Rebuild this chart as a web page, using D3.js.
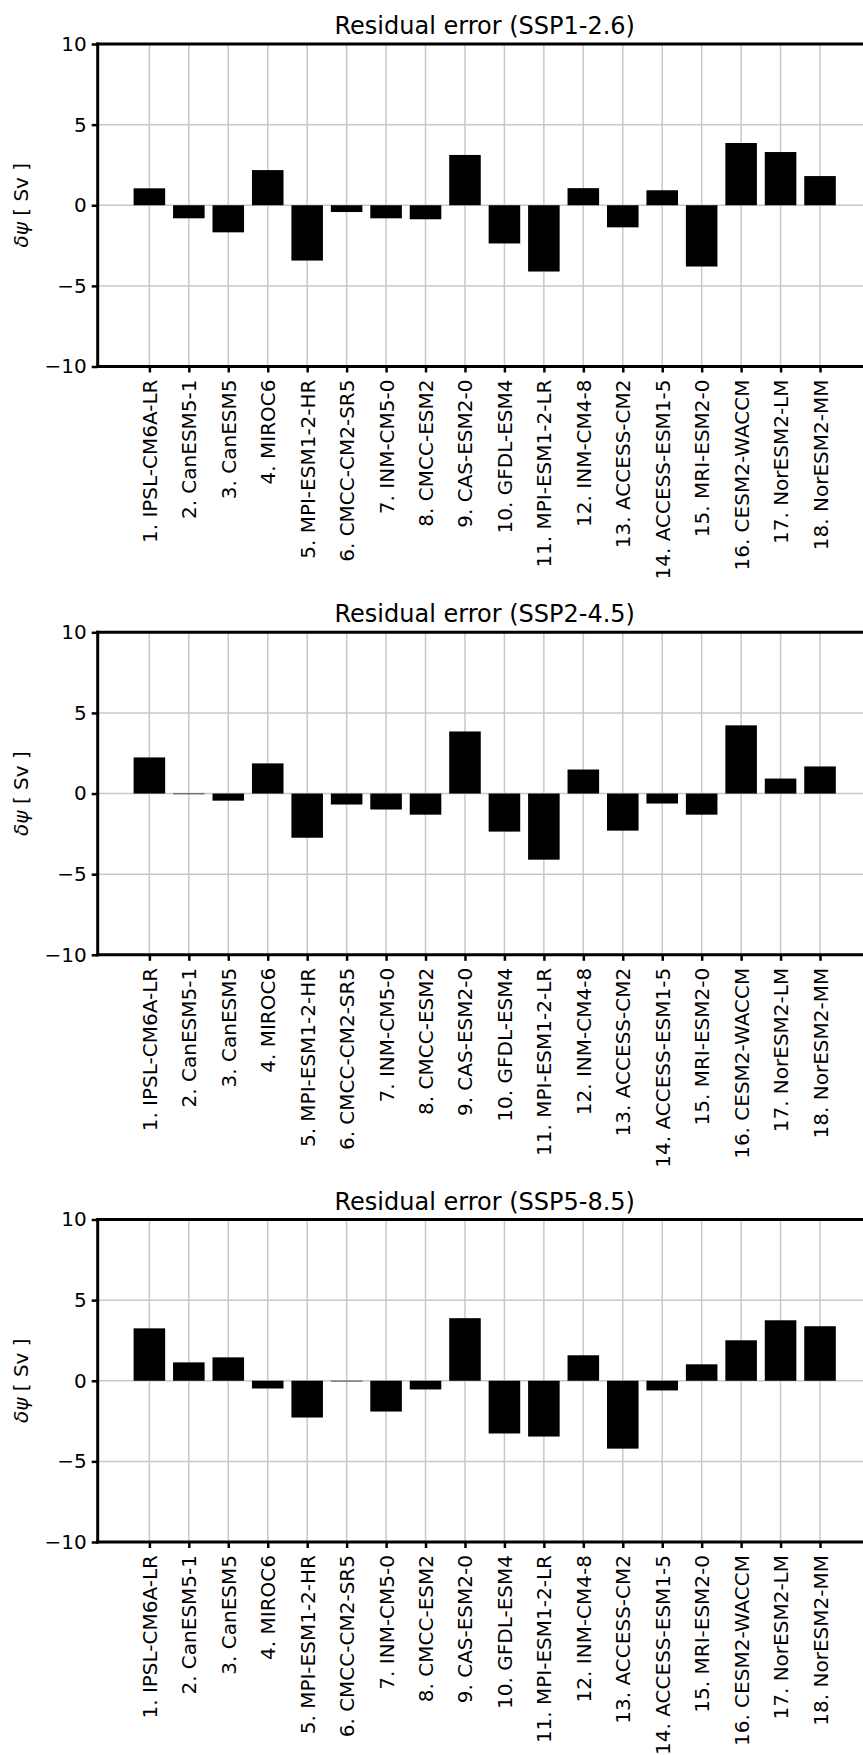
<!DOCTYPE html>
<html>
<head>
<meta charset="utf-8">
<script src="https://cdn.jsdelivr.net/npm/d3@7"></script>
<style>
  body { margin: 0; background: #fff; }
  svg { display: block; font-family: "DejaVu Sans", sans-serif; }
</style>
</head>
<body>
<div id="chart"></div>
<script>
// model names on the x axis
var models = ["1. IPSL-CM6A-LR", "2. CanESM5-1", "3. CanESM5", "4. MIROC6",
  "5. MPI-ESM1-2-HR", "6. CMCC-CM2-SR5", "7. INM-CM5-0", "8. CMCC-ESM2",
  "9. CAS-ESM2-0", "10. GFDL-ESM4", "11. MPI-ESM1-2-LR", "12. INM-CM4-8",
  "13. ACCESS-CM2", "14. ACCESS-ESM1-5", "15. MRI-ESM2-0", "16. CESM2-WACCM",
  "17. NorESM2-LM", "18. NorESM2-MM"];

// residual error per model (Sv)
var ssp126 = [1.05, -0.81, -1.68, 2.18, -3.43, -0.42, -0.81, -0.87, 3.12,
  -2.37, -4.11, 1.06, -1.37, 0.93, -3.80, 3.86, 3.30, 1.81];
var ssp245 = [2.24, -0.04, -0.44, 1.87, -2.74, -0.68, -0.99, -1.31, 3.85,
  -2.36, -4.10, 1.49, -2.30, -0.62, -1.31, 4.23, 0.93, 1.68];
var ssp585 = [3.25, 1.14, 1.45, -0.48, -2.28, -0.04, -1.91, -0.54, 3.88,
  -3.27, -3.46, 1.58, -4.21, -0.60, 1.02, 2.51, 3.75, 3.38];

var titles = ["Residual error (SSP1-2.6)", "Residual error (SSP2-4.5)", "Residual error (SSP5-8.5)"];
var yTicks = [-10, -5, 0, 5, 10];

var panels = [
  { title: titles[0], values: ssp126, top: 44 },
  { title: titles[1], values: ssp245, top: 632.3 },
  { title: titles[2], values: ssp585, top: 1219.5 }
];

var W = 863, H = 1755,
    left = 97.7, right = 871.7, ph = 322.5;

var svg = d3.select("#chart").append("svg")
    .attr("width", W)
    .attr("height", H);

var idx = d3.range(models.length);
var x = d3.scaleLinear().domain([-1.31, 18.31]).range([left, right]);
var barW = x(0.8) - x(0);

panels.forEach(function(p) {
  var y = d3.scaleLinear().domain([-10, 10]).range([p.top + ph, p.top]);
  var g = svg.append("g");

  // grid
  g.selectAll(".vgrid").data(idx).enter().append("line")
      .attr("x1", function(i) { return x(i); })
      .attr("x2", function(i) { return x(i); })
      .attr("y1", y(10)).attr("y2", y(-10))
      .attr("stroke", "#c8c8c8").attr("stroke-width", 1.5);
  g.selectAll(".hgrid").data(yTicks).enter().append("line")
      .attr("x1", left).attr("x2", right)
      .attr("y1", function(d) { return y(d); })
      .attr("y2", function(d) { return y(d); })
      .attr("stroke", "#c8c8c8").attr("stroke-width", 1.5);

  // bars
  g.selectAll(".bar").data(p.values).enter().append("rect")
      .attr("x", function(d, i) { return x(i) - barW / 2; })
      .attr("y", function(d) { return y(Math.max(0, d)); })
      .attr("width", barW)
      .attr("height", function(d) { return Math.abs(y(d) - y(0)); })
      .attr("fill", "#000");

  // axes
  var yAxis = d3.axisLeft(y).tickValues(yTicks).tickSize(6).tickPadding(5)
      .tickFormat(function(d) { return d < 0 ? "\u2212" + Math.abs(d) : d; });
  var ya = g.append("g").attr("transform", "translate(" + left + ",0)").call(yAxis);
  ya.select(".domain").remove();
  ya.selectAll("line").attr("stroke-width", 2.5);
  ya.selectAll("text").attr("font-size", 20).attr("font-family", "DejaVu Sans").attr("fill", "#000");

  var xAxis = d3.axisBottom(x).tickValues(idx).tickSize(6)
      .tickFormat(function(i) { return models[i]; });
  var xa = g.append("g").attr("transform", "translate(0," + y(-10) + ")").call(xAxis);
  xa.select(".domain").remove();
  xa.selectAll("line").attr("stroke-width", 2.5);
  xa.selectAll("text")
      .attr("font-size", 20).attr("font-family", "DejaVu Sans").attr("fill", "#000")
      .attr("y", 0).attr("x", 0).attr("dy", "0.35em")
      .style("text-anchor", "end")
      .attr("transform", "translate(0,13) rotate(-90)");

  // spines
  g.append("line").attr("x1", left).attr("x2", left).attr("y1", y(10)).attr("y2", y(-10))
      .attr("stroke", "#000").attr("stroke-width", 3).attr("stroke-linecap", "square");
  g.append("line").attr("x1", left).attr("x2", right).attr("y1", y(10)).attr("y2", y(10))
      .attr("stroke", "#000").attr("stroke-width", 3).attr("stroke-linecap", "square");
  g.append("line").attr("x1", left).attr("x2", right).attr("y1", y(-10)).attr("y2", y(-10))
      .attr("stroke", "#000").attr("stroke-width", 3).attr("stroke-linecap", "square");
  g.append("line").attr("x1", right).attr("x2", right).attr("y1", y(10)).attr("y2", y(-10))
      .attr("stroke", "#000").attr("stroke-width", 3);

  // title
  g.append("text")
      .attr("x", (left + right) / 2).attr("y", p.top - 10)
      .attr("text-anchor", "middle").attr("font-size", 24)
      .text(p.title);

  // y label
  var yl = g.append("text")
      .attr("transform", "translate(28," + y(0) + ") rotate(-90)")
      .attr("text-anchor", "middle").attr("font-size", 20);
  yl.append("tspan").attr("font-style", "italic").text("\u03b4\u03c8");
  yl.append("tspan").text(" [ Sv ]");
});
</script>
</body>
</html>
